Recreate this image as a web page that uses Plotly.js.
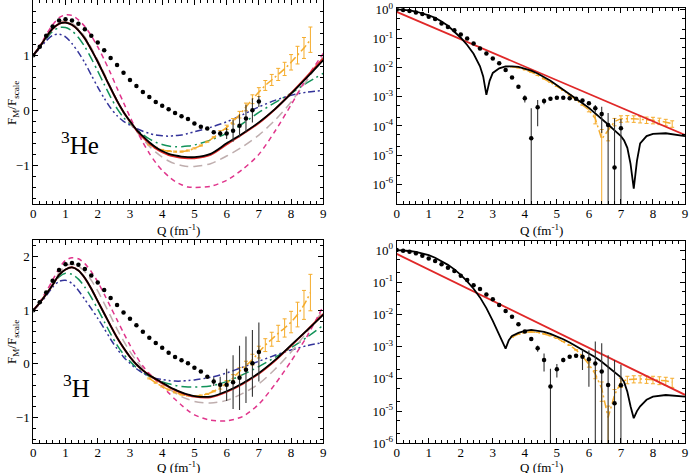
<!DOCTYPE html>
<html><head><meta charset="utf-8">
<script src="https://cdn.plot.ly/plotly-3.0.1.min.js"></script>
<style>html,body{margin:0;padding:0;background:#fff}#chart{width:694px;height:473px}</style>
</head><body><div id="chart"></div>
<script>
// ---------- left panels: F_M / F_scale (linear) ----------
const qCurve = [0,0.2,0.4,0.6,0.8,1.0,1.2,1.4,1.6,1.8,2.0,2.2,2.4,2.6,2.8,3.0,3.2,3.4,3.6,3.8,4.0,4.2,4.4,4.6,4.8,5.0,5.5,6.0,6.5,7.0,7.5,8.0,8.5,9.0];

const heBlack = [1.0,1.15,1.33,1.48,1.57,1.59,1.55,1.45,1.30,1.10,0.88,0.64,0.40,0.17,-0.03,-0.20,-0.35,-0.47,-0.58,-0.67,-0.74,-0.79,-0.82,-0.84,-0.85,-0.85,-0.79,-0.60,-0.42,-0.22,0.02,0.30,0.60,0.91];
const heRed   = [1.0,1.15,1.33,1.48,1.57,1.59,1.55,1.45,1.30,1.10,0.88,0.64,0.40,0.17,-0.03,-0.20,-0.36,-0.49,-0.60,-0.69,-0.76,-0.81,-0.84,-0.86,-0.87,-0.87,-0.81,-0.62,-0.43,-0.23,0.02,0.31,0.62,0.94];
const hePink  = [1.0,1.17,1.37,1.55,1.68,1.73,1.72,1.64,1.52,1.35,1.15,0.92,0.67,0.40,0.14,-0.12,-0.36,-0.58,-0.78,-0.95,-1.09,-1.20,-1.29,-1.35,-1.39,-1.40,-1.38,-1.27,-1.07,-0.80,-0.38,0.10,0.60,1.03];
const heGrey  = [1.0,1.16,1.34,1.50,1.60,1.62,1.58,1.48,1.33,1.13,0.91,0.67,0.42,0.18,-0.04,-0.22,-0.38,-0.52,-0.65,-0.76,-0.85,-0.92,-0.97,-1.00,-1.02,-1.02,-0.97,-0.83,-0.66,-0.45,-0.18,0.15,0.55,0.97];
const heGreen = [1.0,1.14,1.30,1.43,1.50,1.50,1.44,1.32,1.15,0.94,0.71,0.47,0.24,0.03,-0.13,-0.25,-0.35,-0.44,-0.52,-0.58,-0.62,-0.65,-0.66,-0.66,-0.65,-0.63,-0.54,-0.42,-0.24,-0.04,0.14,0.31,0.50,0.67];
const heBlue  = [1.0,1.12,1.26,1.36,1.38,1.33,1.21,1.05,0.86,0.64,0.42,0.22,0.04,-0.10,-0.20,-0.27,-0.33,-0.38,-0.42,-0.45,-0.46,-0.47,-0.46,-0.45,-0.42,-0.39,-0.31,-0.21,-0.08,0.06,0.18,0.27,0.33,0.36];

const hBlack = [1.0,1.14,1.30,1.47,1.66,1.76,1.80,1.74,1.60,1.40,1.17,0.94,0.71,0.49,0.30,0.13,-0.01,-0.12,-0.21,-0.28,-0.35,-0.42,-0.48,-0.53,-0.57,-0.60,-0.61,-0.51,-0.36,-0.17,0.07,0.35,0.63,0.92];
const hRed   = [1.0,1.14,1.30,1.47,1.66,1.76,1.80,1.74,1.60,1.40,1.17,0.94,0.71,0.49,0.30,0.13,-0.01,-0.12,-0.21,-0.29,-0.36,-0.43,-0.49,-0.54,-0.58,-0.61,-0.62,-0.52,-0.37,-0.18,0.06,0.34,0.63,0.93];
const hPink  = [1.0,1.16,1.35,1.56,1.78,1.93,1.98,1.96,1.87,1.72,1.53,1.30,1.06,0.82,0.58,0.35,0.14,-0.04,-0.18,-0.30,-0.42,-0.54,-0.66,-0.77,-0.87,-0.95,-1.05,-1.06,-0.98,-0.75,-0.38,0.05,0.52,1.08];
const hGrey  = [1.0,1.15,1.32,1.50,1.70,1.83,1.86,1.82,1.72,1.56,1.36,1.13,0.89,0.65,0.43,0.23,0.06,-0.08,-0.19,-0.28,-0.37,-0.46,-0.54,-0.61,-0.66,-0.70,-0.73,-0.68,-0.55,-0.37,-0.10,0.22,0.60,1.00];
const hGreen = [1.0,1.14,1.30,1.47,1.62,1.69,1.67,1.58,1.43,1.24,1.02,0.79,0.56,0.35,0.18,0.05,-0.07,-0.16,-0.23,-0.28,-0.33,-0.37,-0.40,-0.42,-0.43,-0.43,-0.41,-0.33,-0.20,-0.05,0.12,0.30,0.50,0.72];
const hBlue  = [1.0,1.12,1.27,1.43,1.54,1.56,1.50,1.37,1.20,1.03,0.85,0.66,0.46,0.28,0.13,0.01,-0.09,-0.17,-0.23,-0.27,-0.29,-0.31,-0.32,-0.32,-0.31,-0.30,-0.25,-0.17,-0.06,0.05,0.16,0.26,0.34,0.40];

const qDots = [0,0.2,0.4,0.6,0.8,1.0,1.2,1.4,1.6,1.8,2.0,2.2,2.4,2.6,2.8,3.0,3.2,3.4,3.6,3.8,4.0,4.2,4.4,4.6,4.8,5.0,5.2,5.4,5.6,5.8,6.0,6.2,6.4,6.6,6.8,7.0];
const heDots    = [1.0,1.15,1.35,1.52,1.63,1.65,1.63,1.57,1.47,1.35,1.23,1.09,0.95,0.82,0.68,0.55,0.44,0.33,0.24,0.15,0.08,0.02,-0.05,-0.11,-0.16,-0.24,-0.30,-0.33,-0.40,-0.42,-0.42,-0.37,-0.28,-0.15,0.00,0.16];
const heDotsErr = [0,0,0,0,0,0,0,0,0,0,0,0,0,0,0,0,0,0,0,0,0,0,0,0,0,0,0,0,0.03,0.05,0.10,0.20,0.21,0.25,0.22,0.10];
const hDots     = [1.0,1.15,1.33,1.55,1.75,1.86,1.88,1.85,1.77,1.65,1.52,1.38,1.23,1.10,0.96,0.84,0.72,0.60,0.49,0.39,0.30,0.21,0.13,0.07,0.01,-0.07,-0.14,-0.24,-0.33,-0.39,-0.39,-0.34,-0.26,-0.11,0.01,0.22];
const hDotsErr  = [0,0,0,0,0,0,0,0,0,0,0,0,0,0,0,0,0,0,0,0,0,0,0,0,0,0,0,0,0.08,0.15,0.30,0.50,0.60,0.62,0.62,0.55];

const qOrange = [3.6,3.8,4.0,4.2,4.4,4.6,4.8,5.0,5.2,5.4,5.6,5.8,6.0,6.2,6.4,6.6,6.8,7.0,7.2,7.4,7.6,7.8,8.0,8.2,8.4,8.6];
const heOrange    = [-0.62,-0.68,-0.72,-0.74,-0.75,-0.75,-0.73,-0.69,-0.64,-0.57,-0.49,-0.40,-0.31,-0.20,-0.08,0.06,0.20,0.33,0.45,0.55,0.65,0.75,0.87,1.00,1.13,1.28];
const heOrangeErr = [0.01,0.01,0.01,0.01,0.01,0.01,0.01,0.01,0.01,0.01,0.01,0.03,0.04,0.05,0.06,0.07,0.08,0.08,0.09,0.10,0.11,0.12,0.14,0.16,0.19,0.23];
const hOrange     = [-0.27,-0.35,-0.42,-0.48,-0.53,-0.57,-0.59,-0.60,-0.59,-0.56,-0.51,-0.44,-0.36,-0.26,-0.14,-0.03,0.08,0.22,0.35,0.46,0.57,0.67,0.78,0.92,1.10,1.33];
const hOrangeErr  = [0.01,0.01,0.01,0.01,0.01,0.01,0.01,0.01,0.01,0.01,0.01,0.03,0.05,0.06,0.07,0.08,0.10,0.11,0.12,0.13,0.15,0.17,0.20,0.23,0.27,0.34];

// ---------- right panels (log scale) ----------
const heLogQ = [0,0.2,0.4,0.6,0.8,1.0,1.2,1.4,1.6,1.8,2.0,2.2,2.4,2.6,2.7,2.8,2.9,3.0,3.2,3.4,3.6,3.8,4.0,4.2,4.4,4.6,4.8,5.0,5.2,5.4,5.6,5.8,6.0,6.2,6.4,6.6,6.8,7.0,7.1,7.2,7.3,7.4,7.5,7.6,7.8,8.0,8.4,8.8,9.0];
const heLogBlack = [1,0.977,0.933,0.851,0.741,0.631,0.513,0.389,0.275,0.178,0.107,0.0603,0.0302,0.0112,0.00501,0.00117,0.00355,0.00661,0.00955,0.0110,0.0112,0.0107,0.00933,0.00794,0.00631,0.00479,0.00355,0.00251,0.00178,0.00126,8.71e-4,6.03e-4,4.17e-4,2.75e-4,1.78e-4,1.12e-4,7.08e-5,4.47e-5,3.16e-5,1.78e-5,5.01e-6,7.08e-7,6.31e-6,2.51e-5,4.47e-5,5.37e-5,5.62e-5,5.01e-5,4.47e-5];
const hLogQ = [0,0.2,0.4,0.6,0.8,1.0,1.2,1.4,1.6,1.8,2.0,2.2,2.4,2.6,2.8,3.0,3.2,3.3,3.4,3.5,3.6,3.8,4.0,4.2,4.4,4.6,4.8,5.0,5.2,5.4,5.6,5.8,6.0,6.2,6.4,6.6,6.8,7.0,7.1,7.2,7.3,7.4,7.5,7.6,7.8,8.0,8.4,8.8,9.0];
const hLogBlack = [1,0.977,0.933,0.871,0.794,0.692,0.575,0.457,0.347,0.251,0.170,0.107,0.0631,0.0339,0.0158,0.00631,0.00240,0.00151,8.71e-4,0.00158,0.00214,0.00269,0.00309,0.00331,0.00316,0.00288,0.00251,0.00209,0.00170,0.00135,0.00105,8.13e-4,6.31e-4,4.68e-4,3.39e-4,2.34e-4,1.62e-4,1.12e-4,7.94e-5,3.98e-5,1.41e-5,6.03e-6,1.0e-5,1.41e-5,2.24e-5,2.82e-5,3.16e-5,2.95e-5,2.82e-5];

const qRed = [0, 9];
const heLogRed = [0.83, 4.9e-5];
const hLogRed  = [0.76, 3.2e-5];

const heLogDots = [1,0.955,0.891,0.794,0.692,0.562,0.468,0.331,0.251,0.195,0.138,0.100,0.0676,0.0457,0.0309,0.0209,0.0141,0.00832,0.00457,0.00224,8.91e-4,3.8e-5,4.37e-4,7.24e-4,8.51e-4,9.33e-4,9.33e-4,8.91e-4,8.51e-4,7.41e-4,6.03e-4,4.07e-4,2.57e-4,1.07e-4,3.72e-6,8.32e-5];
const heLogDotsErr = [0,0,0,0,0,0,0,0,0,0,0,0,0,0,0,0,0,0,0,1e-4,2.5e-4,3.7e-4,3.4e-4,1.7e-4,1e-4,6e-5,5e-5,5e-5,5e-5,6e-5,8e-5,1.2e-4,2e-4,1.7e-4,1.8e-4,9e-5];
const hLogDots = [1,0.955,0.891,0.794,0.661,0.550,0.457,0.363,0.282,0.224,0.158,0.117,0.0813,0.0617,0.0417,0.0295,0.0195,0.0129,0.00851,0.00501,0.00295,0.00174,8.91e-4,3.89e-4,5.75e-5,2.0e-4,3.89e-4,4.9e-4,5.25e-4,4.9e-4,4.07e-4,3.02e-4,1.70e-4,6.46e-5,1.74e-5,6.31e-5];
const hLogDotsErr = [0,0,0,0,0,0,0,0,0,0,0,0,0,0,0,0,0,0,0,0,0,0,2e-4,2.2e-4,1.5e-4,9e-5,6e-5,5e-5,6e-5,3e-4,3.5e-4,1.15e-3,1.1e-3,4.8e-4,3.7e-4,2.1e-4];

const heLogOrange = [0.0107,0.0100,0.00851,0.00708,0.00550,0.00417,0.00316,0.00229,0.00166,0.00117,7.94e-4,5.25e-4,3.55e-4,1.78e-4,3.55e-5,7.08e-5,1.41e-4,1.78e-4,1.82e-4,1.78e-4,1.70e-4,1.62e-4,1.58e-4,1.48e-4,1.35e-4,1.20e-4];
const heLogOrangeErr = [0,0,0,0,0,0,0,0,0,0,0,0,5e-5,6e-5,4e-5,4e-5,4e-5,4.5e-5,4.5e-5,4.5e-5,4.3e-5,4e-5,4e-5,3.7e-5,3.4e-5,3e-5];
const hLogOrange = [0.00200,0.00245,0.00275,0.00288,0.00275,0.00251,0.00219,0.00182,0.00145,0.00110,7.94e-4,5.01e-4,2.82e-4,1.41e-4,5.01e-5,6.31e-6,3.16e-5,7.94e-5,9.55e-5,1.0e-4,1.0e-4,9.77e-5,9.55e-5,9.12e-5,8.71e-5,7.94e-5];
const hLogOrangeErr = [0,0,0,0,0,0,0,0,0,0,0,0,5e-5,4e-5,3e-5,8e-6,1.5e-5,2.5e-5,2.5e-5,2.5e-5,2.5e-5,2.5e-5,2.5e-5,2.5e-5,2.5e-5,2.5e-5];

const xTickVals = [0,1,2,3,4,5,6,7,8,9];
const linTickVals = [-1,0,1,2];
const logTickVals = [1,0.1,0.01,0.001,1e-4,1e-5,1e-6];
const logTickText = ['10<sup>0</sup>','10<sup>-1</sup>','10<sup>-2</sup>','10<sup>-3</sup>','10<sup>-4</sup>','10<sup>-5</sup>','10<sup>-6</sup>'];
const xTitle = 'Q (fm<sup>-1</sup>)';
const yTitle = 'F<sub>M</sub>/F<sub>scale</sub>';
const nucleusLabels = ['<sup>3</sup>He', '<sup>3</sup>H'];

const C = {black:'#000000', red:'#e02828', pink:'#e0358c', grey:'#bfaeae', green:'#12935a', blue:'#33339a', orange:'#f5ac2c'};

function curve(x, y, ax, color, dash, width, shape){
  return {x:x, y:y, xaxis:'x'+ax, yaxis:'y'+ax, type:'scatter', mode:'lines',
    line:{color:color, dash:dash, width:width, shape:shape||'spline', smoothing:0.8}, hoverinfo:'skip', showlegend:false};
}
function dots(x, y, err, ax){
  return {x:x, y:y, xaxis:'x'+ax, yaxis:'y'+ax, type:'scatter', mode:'markers',
    marker:{color:'#000', size:4.5}, error_y:{type:'data', array:err, visible:true, color:'#333', thickness:1.1, width:0},
    hoverinfo:'skip', showlegend:false};
}
function orange(x, y, err, ax, shape){
  return {x:x, y:y, xaxis:'x'+ax, yaxis:'y'+ax, type:'scatter', mode:'lines',
    line:{color:C.orange, dash:'8px,3px,2px,3px', width:1.5, shape:shape||'spline'},
    error_y:{type:'data', array:err, visible:true, color:C.orange, thickness:1, width:2},
    hoverinfo:'skip', showlegend:false};
}
const dashBlue = '7px,3px,2px,3px,2px,3px';
const dashGreen = '10px,4px,2px,4px';

const data = [];
[['', heBlack, heRed, hePink, heGrey, heGreen, heBlue, heDots, heDotsErr, heOrange, heOrangeErr],
 ['3', hBlack, hRed, hPink, hGrey, hGreen, hBlue, hDots, hDotsErr, hOrange, hOrangeErr]].forEach(p => {
  const ax = p[0];
  data.push(curve(qCurve, p[5], ax, C.green, dashGreen, 1.5));
  data.push(curve(qCurve, p[6], ax, C.blue, dashBlue, 1.5));
  data.push(curve(qCurve, p[4], ax, C.grey, '9px,5px', 1.5));
  data.push(curve(qCurve, p[3], ax, C.pink, '5px,4px', 1.5));
  data.push(orange(qOrange, p[9], p[10], ax));
  data.push(curve(qCurve, p[2], ax, C.red, 'solid', 2));
  data.push(curve(qCurve, p[1], ax, C.black, 'solid', 1.8));
  data.push(dots(qDots, p[7], p[8], ax));
});
[['2', heLogQ, heLogBlack, heLogRed, heLogDots, heLogDotsErr, heLogOrange, heLogOrangeErr],
 ['4', hLogQ, hLogBlack, hLogRed, hLogDots, hLogDotsErr, hLogOrange, hLogOrangeErr]].forEach(p => {
  const ax = p[0];
  data.push(orange(qOrange, p[6], p[7], ax, 'linear'));
  data.push(curve(qRed, p[3], ax, C.red, 'solid', 1.8, 'linear'));
  data.push(curve(p[1], p[2], ax, C.black, 'solid', 1.8, 'linear'));
  data.push(dots(qDots, p[4], p[5], ax));
});

const W = 694, H = 473;
const SERIF = 'Liberation Serif, Times New Roman, serif';
const font = {family:SERIF, size:13, color:'#000'};
function xAxis(l, r, anchor){
  return {domain:[l/W, r/W], anchor:anchor, range:[0,9], tickvals:xTickVals, ticks:'inside', ticklen:5, tickwidth:1, tickcolor:'#000',
    showline:true, mirror:'allticks', linecolor:'#000', linewidth:1, showgrid:false, zeroline:false,
    minor:{ticks:'inside', ticklen:3, dtick:0.2, tickcolor:'#000', showgrid:false},
    tickfont:font, ticklabelstandoff:-3, fixedrange:true};
}
function yLin(t, b, anchor, rng){
  return {domain:[1-b/H, 1-t/H], anchor:anchor, range:rng, tickvals:linTickVals, ticks:'inside', ticklen:5, tickwidth:1, tickcolor:'#000',
    showline:true, mirror:'allticks', linecolor:'#000', linewidth:1, showgrid:false, zeroline:false,
    minor:{ticks:'inside', ticklen:3, dtick:0.2, tickcolor:'#000', showgrid:false},
    tickfont:font, fixedrange:true};
}
function yLog(t, b, anchor, rng){
  return {domain:[1-b/H, 1-t/H], anchor:anchor, type:'log', range:rng, tickvals:logTickVals, ticktext:logTickText,
    ticks:'inside', ticklen:5, tickwidth:1, tickcolor:'#000',
    showline:true, mirror:'allticks', linecolor:'#000', linewidth:1, showgrid:false, zeroline:false,
    minor:{ticks:'inside', ticklen:3, tickcolor:'#000', showgrid:false},
    tickfont:font, fixedrange:true};
}
function note(text, x, y, size, angle){
  return {text:text, xref:'paper', yref:'paper', x:x/W, y:1-y/H, xanchor:'center', yanchor:'middle',
    showarrow:false, textangle:angle||0, borderpad:0, font:{family:SERIF, size:size, color:'#000'}};
}
const layout = {
  width:W, height:H, margin:{l:0,r:0,t:0,b:0}, paper_bgcolor:'#fff', plot_bgcolor:'#fff', showlegend:false,
  font:font,
  xaxis: xAxis(33.3, 323.3, 'y'),
  yaxis: yLin(0, 204, 'x', [-1.7, 2.0]),
  xaxis2: xAxis(396.7, 685, 'y2'),
  yaxis2: yLog(8.3, 204, 'x2', [-6.68, 0.04]),
  xaxis3: xAxis(33.3, 323.3, 'y3'),
  yaxis3: yLin(240, 443.3, 'x3', [-1.48, 2.31]),
  xaxis4: xAxis(396.7, 685, 'y4'),
  yaxis4: yLog(240.7, 443.3, 'x4', [-6.0, 0.29]),
  annotations:[
    note(nucleusLabels[0], 80, 143, 25),
    note(nucleusLabels[1], 76, 386, 25),
    note(xTitle, 178, 230, 13),
    note(xTitle, 541, 230, 13),
    note(xTitle, 178, 466.5, 13),
    note(xTitle, 541, 466.5, 13),
    note(yTitle, 12, 103, 13, -90),
    note(yTitle, 12, 342, 13, -90)
  ]
};
Plotly.newPlot('chart', data, layout, {staticPlot:true, displayModeBar:false});
</script></body></html>
